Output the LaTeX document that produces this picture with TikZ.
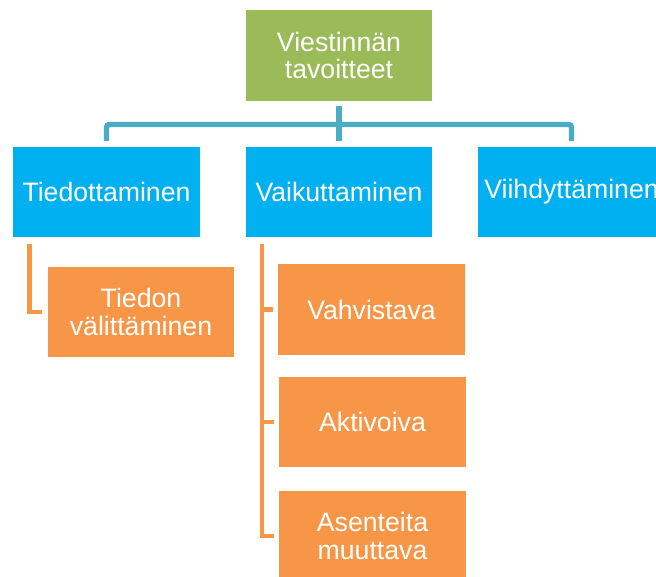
\documentclass[tikz,border=0pt]{standalone}
\usepackage{fontspec}
\setmainfont{Liberation Sans}
\usepackage{tikz}
\usepackage{xcolor}
\definecolor{goalgreen}{RGB}{155,187,89}
\definecolor{mainblue}{RGB}{0,176,240}
\definecolor{suborange}{RGB}{247,150,70}
\definecolor{linkteal}{RGB}{75,172,198}

\begin{document}
\begin{tikzpicture}[x=0.75pt,y=-0.75pt,
          box/.style={rectangle, inner sep=0pt, minimum width=140pt, minimum height=68pt, text width=138pt, align=center, text=white, font=\fontsize{20}{20.5}\selectfont},
          tline/.style={linkteal, line width=4pt, rounded corners=2pt, shorten <=3.75pt, shorten >=4pt},
          oline/.style={suborange, line width=3.6pt, shorten <=5pt, shorten >=3.75pt}]
          \useasboundingbox (0,0) rectangle (656,576);
          \node[box, fill=goalgreen] (goal) at (339,55.5) {Viestinnän\\tavoitteet};
          \node[box, fill=mainblue] (tied) at (106.5,192) {Tiedottaminen};
          \node[box, fill=mainblue] (vaik) at (339,192) {Vaikuttaminen};
          \node[box, fill=mainblue] (viih) at (571.5,192) {Viihdyttäminen};
          \node[box, fill=suborange] (tval) at (141,312) {Tiedon\\välittäminen};
          \node[box, fill=suborange] (vahv) at (371.5,309.5) {Vahvistava};
          \node[box, fill=suborange] (aktiv) at (372.5,422) {Aktivoiva};
          \node[box, fill=suborange] (asen) at (372.5,536) {Asenteita\\muuttava};
          \coordinate (hub) at (339,124.5);
          \draw[tline] (goal.south) -- (vaik.north);
          \draw[tline, shorten <=0pt] (hub) -| (tied.north);
          \draw[tline, shorten <=0pt] (hub) -| (viih.north);
          \draw[oline] ([xshift=12.5pt]tied.south west) |- (tval.west);
          \draw[oline] ([xshift=12.5pt]vaik.south west) |- (vahv.west);
          \draw[oline] ([xshift=12.5pt]vaik.south west) |- (aktiv.west);
          \draw[oline] ([xshift=12.5pt]vaik.south west) |- (asen.west);
        \end{tikzpicture}
\end{document}
